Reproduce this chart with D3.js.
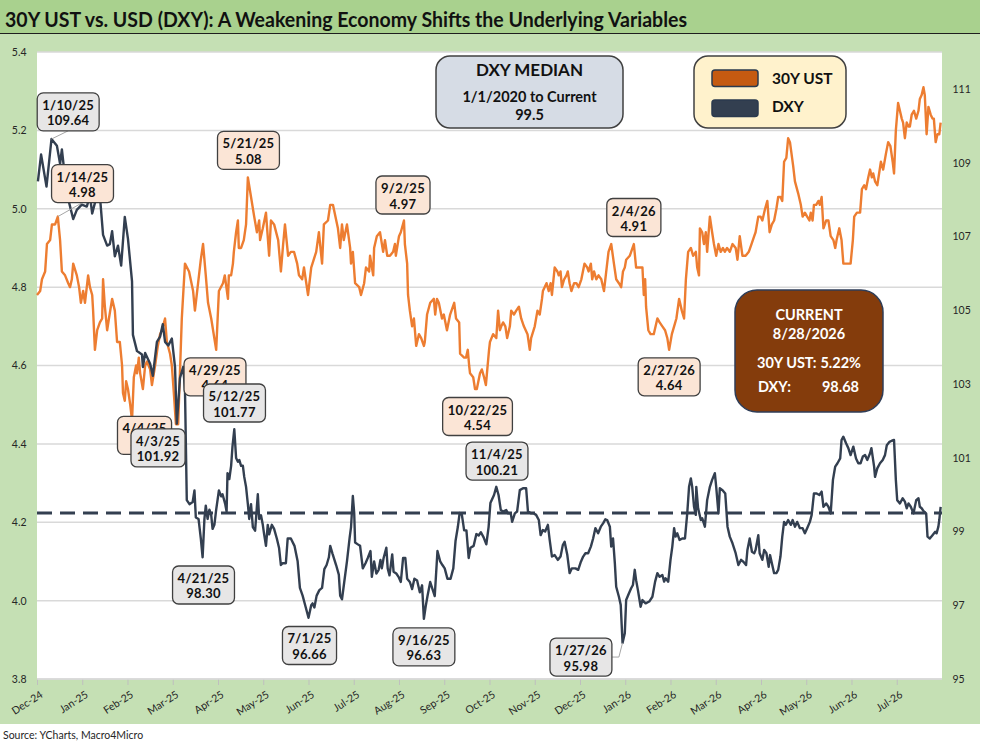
<!DOCTYPE html>
<html><head><meta charset="utf-8">
<script src="https://cdn.jsdelivr.net/npm/d3@7/dist/d3.min.js"></script>
<style>
html,body{margin:0;padding:0;background:#fff;}
svg{display:block;font-family:Lato,"Open Sans",sans-serif;}
</style></head><body>
<svg id="c" width="982" height="744"></svg>
<script>
// ---------------- DATA ----------------
const titleText = "30Y UST vs. USD (DXY): A Weakening Economy Shifts the Underlying Variables";
const sourceText = "Source: YCharts, Macro4Micro";
const monthLabels = ["Dec-24","Jan-25","Feb-25","Mar-25","Apr-25","May-25","Jun-25","Jul-25","Aug-25","Sep-25","Oct-25","Nov-25","Dec-25","Jan-26","Feb-26","Mar-26","Apr-26","May-26","Jun-26","Jul-26"];
const ustTicks = [3.8,4.0,4.2,4.4,4.6,4.8,5.0,5.2,5.4];
const dxyTicks = [95,97,99,101,103,105,107,109,111];
const seriesNames = ["30Y UST","DXY"];
const dxyMedian = 99.5;
const medianLines = ["DXY MEDIAN","1/1/2020 to Current","99.5"];
const current = {date:"8/28/2026", ust:"5.22%", dxy:"98.68"};

// time in months from the Dec-24 axis tick, value
const ust = [[0,4.78],[0.07,4.79],[0.11,4.82],[0.18,4.84],[0.22,4.91],[0.29,4.92],[0.33,4.96],[0.40,4.96],[0.46,4.98],[0.51,4.92],[0.55,4.84],[0.62,4.83],[0.69,4.81],[0.73,4.80],[0.77,4.82],[0.80,4.86],[0.88,4.83],[0.93,4.80],[0.97,4.76],[1.02,4.79],[1.06,4.76],[1.13,4.83],[1.17,4.80],[1.22,4.78],[1.24,4.74],[1.28,4.64],[1.33,4.69],[1.39,4.71],[1.44,4.72],[1.46,4.82],[1.50,4.75],[1.55,4.69],[1.59,4.72],[1.66,4.77],[1.72,4.74],[1.77,4.66],[1.83,4.66],[1.88,4.60],[1.90,4.53],[1.94,4.51],[1.97,4.56],[2.01,4.54],[2.06,4.50],[2.10,4.46],[2.14,4.57],[2.19,4.60],[2.21,4.58],[2.25,4.62],[2.28,4.58],[2.34,4.54],[2.39,4.60],[2.43,4.61],[2.50,4.59],[2.54,4.55],[2.61,4.60],[2.67,4.65],[2.72,4.68],[2.76,4.69],[2.83,4.72],[2.87,4.66],[2.94,4.63],[2.98,4.60],[3.03,4.52],[3.07,4.45],[3.12,4.45],[3.20,4.72],[3.27,4.86],[3.36,4.84],[3.45,4.79],[3.49,4.74],[3.56,4.81],[3.62,4.87],[3.67,4.91],[3.73,4.83],[3.78,4.76],[3.85,4.72],[3.96,4.64],[4.02,4.79],[4.11,4.81],[4.15,4.83],[4.22,4.77],[4.24,4.83],[4.29,4.83],[4.33,4.86],[4.35,4.89],[4.40,4.94],[4.44,4.97],[4.46,4.90],[4.51,4.90],[4.57,4.92],[4.62,4.96],[4.66,5.08],[4.73,5.03],[4.80,4.98],[4.86,4.94],[4.91,4.97],[4.93,4.92],[4.99,4.95],[5.06,4.99],[5.13,4.88],[5.17,4.97],[5.24,4.96],[5.33,4.92],[5.39,4.84],[5.44,4.91],[5.48,4.96],[5.55,4.88],[5.61,4.89],[5.68,4.89],[5.75,4.86],[5.79,4.83],[5.86,4.82],[5.90,4.85],[5.99,4.78],[6.06,4.85],[6.17,4.89],[6.23,4.94],[6.30,4.86],[6.34,4.96],[6.43,4.97],[6.48,5.01],[6.54,5.01],[6.65,4.95],[6.70,4.90],[6.74,4.96],[6.78,4.92],[6.85,4.96],[6.92,4.90],[6.94,4.86],[6.98,4.89],[7.03,4.81],[7.12,4.80],[7.16,4.78],[7.23,4.81],[7.27,4.85],[7.34,4.84],[7.36,4.88],[7.43,4.83],[7.45,4.90],[7.51,4.93],[7.58,4.94],[7.65,4.89],[7.69,4.92],[7.74,4.88],[7.80,4.88],[7.87,4.89],[7.91,4.91],[7.93,4.88],[8.00,4.93],[8.04,4.94],[8.11,4.97],[8.13,4.91],[8.18,4.86],[8.20,4.78],[8.24,4.74],[8.29,4.70],[8.33,4.72],[8.38,4.65],[8.44,4.68],[8.49,4.67],[8.55,4.65],[8.57,4.66],[8.62,4.73],[8.69,4.76],[8.77,4.77],[8.80,4.73],[8.84,4.77],[8.88,4.76],[8.95,4.72],[8.99,4.73],[9.06,4.69],[9.13,4.73],[9.22,4.76],[9.26,4.72],[9.33,4.71],[9.35,4.63],[9.44,4.62],[9.48,4.62],[9.52,4.64],[9.55,4.60],[9.57,4.58],[9.64,4.57],[9.68,4.54],[9.72,4.54],[9.79,4.58],[9.83,4.59],[9.88,4.57],[9.92,4.55],[9.99,4.64],[10.01,4.66],[10.08,4.68],[10.15,4.67],[10.19,4.74],[10.23,4.69],[10.26,4.70],[10.30,4.71],[10.35,4.70],[10.39,4.67],[10.45,4.70],[10.48,4.74],[10.54,4.73],[10.59,4.74],[10.65,4.75],[10.70,4.72],[10.76,4.70],[10.84,4.68],[10.89,4.64],[10.92,4.67],[11.00,4.70],[11.06,4.74],[11.11,4.73],[11.16,4.77],[11.18,4.79],[11.26,4.81],[11.31,4.79],[11.35,4.81],[11.38,4.78],[11.44,4.85],[11.50,4.84],[11.53,4.83],[11.57,4.84],[11.60,4.80],[11.65,4.82],[11.70,4.83],[11.73,4.84],[11.77,4.81],[11.81,4.79],[11.87,4.81],[11.92,4.81],[11.97,4.80],[12.03,4.82],[12.10,4.86],[12.16,4.85],[12.19,4.84],[12.24,4.86],[12.27,4.82],[12.31,4.84],[12.36,4.82],[12.41,4.83],[12.47,4.82],[12.53,4.79],[12.58,4.84],[12.63,4.89],[12.69,4.91],[12.75,4.86],[12.80,4.82],[12.86,4.81],[12.91,4.80],[12.95,4.84],[12.99,4.85],[13.02,4.87],[13.10,4.88],[13.19,4.91],[13.24,4.85],[13.30,4.85],[13.38,4.85],[13.41,4.78],[13.44,4.82],[13.46,4.75],[13.51,4.69],[13.56,4.68],[13.63,4.68],[13.71,4.72],[13.76,4.71],[13.82,4.70],[13.88,4.69],[13.93,4.67],[13.97,4.64],[14.03,4.68],[14.08,4.70],[14.13,4.72],[14.19,4.77],[14.25,4.74],[14.30,4.72],[14.34,4.82],[14.39,4.89],[14.45,4.90],[14.50,4.88],[14.56,4.89],[14.59,4.85],[14.63,4.83],[14.65,4.95],[14.70,4.94],[14.74,4.91],[14.78,4.94],[14.81,4.89],[14.87,4.98],[14.92,4.94],[14.96,4.91],[15.01,4.88],[15.06,4.91],[15.11,4.89],[15.16,4.90],[15.20,4.89],[15.25,4.90],[15.31,4.89],[15.37,4.91],[15.44,4.90],[15.48,4.87],[15.53,4.93],[15.59,4.88],[15.66,4.88],[15.73,4.89],[15.79,4.91],[15.85,4.93],[15.88,4.94],[15.94,4.98],[15.99,4.98],[16.03,4.97],[16.09,5.00],[16.14,5.02],[16.19,4.94],[16.24,4.96],[16.29,4.97],[16.34,5.00],[16.38,5.03],[16.43,5.03],[16.47,5.02],[16.51,5.12],[16.56,5.13],[16.60,5.18],[16.64,5.17],[16.71,5.11],[16.75,5.07],[16.82,5.04],[16.88,5.01],[16.92,4.98],[16.97,4.99],[17.02,4.98],[17.07,4.97],[17.10,4.99],[17.14,4.97],[17.17,5.01],[17.22,5.01],[17.27,5.02],[17.30,5.01],[17.34,5.03],[17.38,4.95],[17.44,4.97],[17.49,4.97],[17.54,4.93],[17.60,4.92],[17.64,4.90],[17.67,4.92],[17.73,4.95],[17.78,4.92],[17.82,4.86],[17.88,4.86],[17.93,4.86],[17.98,4.86],[18.03,4.92],[18.06,4.98],[18.12,4.99],[18.19,4.99],[18.23,5.05],[18.28,5.06],[18.32,5.05],[18.37,5.08],[18.41,5.10],[18.45,5.08],[18.48,5.09],[18.52,5.07],[18.57,5.06],[18.61,5.09],[18.65,5.12],[18.70,5.10],[18.76,5.14],[18.81,5.17],[18.86,5.16],[18.91,5.12],[18.94,5.09],[18.98,5.20],[19.03,5.27],[19.07,5.25],[19.11,5.23],[19.14,5.22],[19.18,5.18],[19.22,5.22],[19.26,5.21],[19.29,5.21],[19.33,5.24],[19.38,5.25],[19.43,5.23],[19.48,5.25],[19.51,5.28],[19.55,5.29],[19.59,5.31],[19.62,5.29],[19.66,5.19],[19.70,5.26],[19.75,5.24],[19.79,5.23],[19.82,5.23],[19.86,5.17],[19.90,5.19],[19.94,5.19],[19.97,5.22]];

const dxy = [[0.02,108.49],[0.09,109.22],[0.21,108.35],[0.32,109.64],[0.44,109.46],[0.51,108.97],[0.55,109.36],[0.62,108.59],[0.69,108.01],[0.80,107.47],[0.88,107.72],[0.99,107.86],[1.10,107.81],[1.17,108.10],[1.22,107.62],[1.28,107.91],[1.39,108.10],[1.46,107.04],[1.55,106.75],[1.61,106.79],[1.66,107.14],[1.72,106.46],[1.79,106.75],[1.86,106.21],[1.94,107.53],[2.01,106.94],[2.10,105.78],[2.12,104.33],[2.21,103.89],[2.32,103.80],[2.34,103.46],[2.39,103.84],[2.50,103.55],[2.56,103.22],[2.65,104.14],[2.72,104.28],[2.78,104.62],[2.83,104.14],[2.90,104.04],[2.98,104.23],[3.05,103.46],[3.09,101.92],[3.16,103.16],[3.23,103.46],[3.27,102.87],[3.31,99.85],[3.37,99.74],[3.44,99.80],[3.48,100.11],[3.51,99.38],[3.57,99.34],[3.62,98.81],[3.66,98.30],[3.70,99.34],[3.73,99.70],[3.77,99.34],[3.81,99.59],[3.85,99.44],[3.88,99.07],[3.92,99.18],[3.96,99.59],[4.02,100.11],[4.07,99.95],[4.10,100.01],[4.16,99.74],[4.19,99.54],[4.21,100.58],[4.25,100.42],[4.29,100.78],[4.32,101.30],[4.36,101.77],[4.40,100.99],[4.44,100.89],[4.47,100.94],[4.51,100.78],[4.55,100.78],[4.58,100.48],[4.62,100.21],[4.66,99.74],[4.69,99.34],[4.73,99.74],[4.77,99.12],[4.82,99.02],[4.88,100.01],[4.91,99.34],[4.95,99.44],[4.99,99.18],[5.02,98.92],[5.06,98.61],[5.10,99.18],[5.13,98.92],[5.19,99.18],[5.24,99.07],[5.30,98.81],[5.35,98.55],[5.39,98.09],[5.43,98.14],[5.50,98.14],[5.54,98.81],[5.61,98.81],[5.69,98.61],[5.76,98.19],[5.81,97.47],[5.87,97.26],[5.94,96.94],[6.00,96.66],[6.06,97.00],[6.09,97.05],[6.13,96.94],[6.18,97.26],[6.24,97.41],[6.30,97.47],[6.35,97.98],[6.40,98.09],[6.45,98.30],[6.48,98.61],[6.53,98.40],[6.61,98.09],[6.67,97.83],[6.70,97.26],[6.74,97.16],[6.79,97.63],[6.85,98.19],[6.91,98.84],[6.94,99.12],[6.98,99.96],[7.01,99.50],[7.03,98.70],[7.09,98.65],[7.14,98.61],[7.20,98.00],[7.26,98.14],[7.31,98.28],[7.37,98.47],[7.40,97.77],[7.45,98.19],[7.50,97.86],[7.55,97.96],[7.59,98.23],[7.62,98.00],[7.66,98.28],[7.72,98.56],[7.75,98.00],[7.79,97.81],[7.85,98.38],[7.88,97.91],[7.94,97.86],[7.99,97.77],[8.04,97.63],[8.09,98.28],[8.14,98.28],[8.18,97.72],[8.24,97.63],[8.29,97.44],[8.34,97.72],[8.40,97.67],[8.46,97.35],[8.51,97.54],[8.55,96.63],[8.59,96.97],[8.63,97.25],[8.69,97.63],[8.74,97.44],[8.79,97.25],[8.85,98.47],[8.91,98.19],[8.96,98.09],[9.01,98.00],[9.07,97.72],[9.14,97.72],[9.20,98.00],[9.25,98.75],[9.30,99.12],[9.34,99.50],[9.39,99.45],[9.44,99.03],[9.49,99.03],[9.54,98.28],[9.58,98.56],[9.65,98.61],[9.71,98.93],[9.76,98.89],[9.81,98.98],[9.87,98.84],[9.93,98.65],[9.98,99.12],[10.02,99.77],[10.10,99.99],[10.15,100.21],[10.20,99.99],[10.25,99.58],[10.30,99.54],[10.37,99.58],[10.41,99.49],[10.47,99.49],[10.50,99.26],[10.56,99.49],[10.61,99.54],[10.67,100.12],[10.74,100.17],[10.81,100.17],[10.85,99.54],[10.92,99.49],[10.98,99.49],[11.03,99.45],[11.09,99.31],[11.13,98.90],[11.18,99.04],[11.23,99.00],[11.29,99.18],[11.33,98.77],[11.38,98.32],[11.44,98.36],[11.51,98.23],[11.57,98.32],[11.62,98.63],[11.66,98.72],[11.72,98.36],[11.77,97.87],[11.82,98.00],[11.90,98.00],[11.96,97.96],[12.02,98.18],[12.07,98.32],[12.12,98.41],[12.18,98.41],[12.24,98.59],[12.29,98.81],[12.34,99.09],[12.40,98.95],[12.46,99.13],[12.51,99.22],[12.56,99.33],[12.60,99.31],[12.66,99.13],[12.69,98.59],[12.73,98.81],[12.77,98.14],[12.80,97.50],[12.86,97.23],[12.90,97.01],[12.94,95.98],[12.99,96.24],[13.02,97.14],[13.08,97.32],[13.13,97.46],[13.17,97.55],[13.21,97.96],[13.24,97.68],[13.28,97.41],[13.34,96.96],[13.38,97.14],[13.45,97.05],[13.53,97.10],[13.60,97.23],[13.66,97.64],[13.71,97.87],[13.76,97.77],[13.82,97.82],[13.86,97.64],[13.89,97.73],[13.95,97.64],[14.00,98.23],[14.04,98.59],[14.08,99.09],[14.11,98.86],[14.15,98.95],[14.20,98.77],[14.26,98.81],[14.32,98.81],[14.37,99.49],[14.41,100.21],[14.45,100.44],[14.48,100.21],[14.52,99.67],[14.56,99.45],[14.57,100.21],[14.61,99.63],[14.67,99.31],[14.70,99.36],[14.76,99.13],[14.81,99.85],[14.87,100.21],[14.92,100.40],[14.98,100.58],[15.01,100.21],[15.06,99.49],[15.09,100.17],[15.15,100.12],[15.21,100.03],[15.26,99.13],[15.31,98.86],[15.37,98.68],[15.44,98.41],[15.50,98.09],[15.56,98.23],[15.61,98.18],[15.67,98.09],[15.70,98.50],[15.75,98.81],[15.80,98.45],[15.85,98.41],[15.88,98.50],[15.94,98.90],[15.97,98.41],[16.03,98.23],[16.07,98.50],[16.12,98.41],[16.17,98.04],[16.20,98.36],[16.24,98.14],[16.29,97.87],[16.34,97.87],[16.38,97.96],[16.43,98.32],[16.47,98.86],[16.51,99.26],[16.55,99.18],[16.60,99.31],[16.66,99.18],[16.70,99.31],[16.75,99.13],[16.80,99.26],[16.86,99.09],[16.92,99.09],[16.97,98.95],[17.02,99.09],[17.08,99.26],[17.12,99.45],[17.17,100.03],[17.23,100.03],[17.29,99.99],[17.34,100.08],[17.38,99.67],[17.44,99.76],[17.49,99.67],[17.54,99.49],[17.59,100.40],[17.64,100.76],[17.69,100.85],[17.75,100.98],[17.78,101.48],[17.82,101.57],[17.88,101.39],[17.93,101.26],[17.98,101.07],[18.04,101.30],[18.10,100.98],[18.15,100.85],[18.20,100.85],[18.25,101.03],[18.30,101.07],[18.35,100.94],[18.41,101.12],[18.44,101.26],[18.50,100.76],[18.52,100.48],[18.57,100.71],[18.63,100.85],[18.69,100.94],[18.74,101.07],[18.78,101.34],[18.84,101.43],[18.89,101.46],[18.94,101.48],[18.98,100.40],[19.01,99.85],[19.07,99.76],[19.13,99.90],[19.18,99.81],[19.22,99.63],[19.26,99.76],[19.31,99.67],[19.37,99.49],[19.43,99.85],[19.48,99.90],[19.51,99.67],[19.55,99.63],[19.60,99.54],[19.65,99.49],[19.68,98.86],[19.73,98.81],[19.79,98.90],[19.85,98.99],[19.88,98.95],[19.92,99.13],[19.94,99.31],[19.97,99.67]];

// callouts: label date, anchor (t, value) on a series
const ustCallouts = [
  {date:"1/14/25", t:0.46, v:4.98},
  {date:"5/21/25", t:4.66, v:5.08},
  {date:"9/2/25",  t:8.11, v:4.97},
  {date:"2/4/26",  t:13.19, v:4.91},
  {date:"4/4/25",  t:2.10, v:4.46},
  {date:"4/29/25", t:3.96, v:4.64},
  {date:"10/22/25",t:9.72, v:4.54},
  {date:"2/27/26", t:13.97, v:4.64}
];
const dxyCallouts = [
  {date:"1/10/25", t:0.32, v:109.64},
  {date:"4/3/25",  t:3.09, v:101.92},
  {date:"5/12/25", t:4.36, v:101.77},
  {date:"11/4/25", t:10.15, v:100.21},
  {date:"4/21/25", t:3.66, v:98.30},
  {date:"7/1/25",  t:6.00, v:96.66},
  {date:"9/16/25", t:8.55, v:96.63},
  {date:"1/27/26", t:12.94, v:95.98}
];
// placement of each callout box relative to its anchor (layout, px)
const ustPlace = [[24.7,-33,"up"],[0.6,-27,null],[-1,-25.5,null],[0,-26.5,null],[12.5,15,null],[-1.2,27,null],[0.7,27.5,null],[0,27,null]];
const dxyPlace = [[16.7,-27.2,"up"],[-18.8,24.2,null],[0.2,-26.3,null],[0.7,-25.8,null],[0.9,27.7,null],[1,27.7,null],[0,28,null],[-41.6,14.2,"elbow"]];

// ---------------- CHART ----------------
const svg = d3.select("#c");
const P = {l:37, r:942, t:52, b:679};
const x = d3.scaleLinear().domain([0,20]).range([P.l,P.r]);
const yL = d3.scaleLinear().domain([3.8,5.4]).range([P.b,P.t]);
const yR = d3.scaleLinear().domain([95,112]).range([P.b,P.t]);

// frame backgrounds
svg.append("rect").attr("x",0).attr("y",0).attr("width",980).attr("height",33).attr("fill","#a9d18e");
svg.append("rect").attr("x",0).attr("y",34).attr("width",980).attr("height",690).attr("fill","#c5e0b4");
svg.append("line").attr("x1",0).attr("x2",980).attr("y1",33.5).attr("y2",33.5).attr("stroke","#1e1e1e").attr("stroke-width",1.2);
svg.append("text").attr("x",5).attr("y",27).attr("font-size",21).attr("font-weight","bold").attr("fill","#111")
  .attr("textLength",682).attr("lengthAdjust","spacingAndGlyphs").text(titleText);
svg.append("rect").attr("x",P.l).attr("y",P.t).attr("width",P.r-P.l).attr("height",P.b-P.t).attr("fill","#fff");

// gridlines
svg.append("g").selectAll("line").data(ustTicks).join("line")
  .attr("x1",P.l).attr("x2",P.r).attr("y1",d=>yL(d)).attr("y2",d=>yL(d))
  .attr("stroke","#d9d9d9").attr("stroke-width",1.5);

// axes
const fmt1 = d3.format(".1f");
const gl = svg.append("g").attr("transform",`translate(${P.l},0)`)
  .call(d3.axisLeft(yL).tickValues(ustTicks).tickFormat(fmt1).tickSize(0).tickPadding(10));
const gr = svg.append("g").attr("transform",`translate(${P.r},0)`)
  .call(d3.axisRight(yR).tickValues(dxyTicks).tickSize(0).tickPadding(10));
const gb = svg.append("g").attr("transform",`translate(0,${P.b})`)
  .call(d3.axisBottom(x).tickValues(d3.range(monthLabels.length)).tickFormat(i=>monthLabels[i]).tickSize(6).tickPadding(0));
[gl,gr,gb].forEach(g=>{g.select(".domain").remove();g.selectAll("text").attr("font-family","Lato").attr("font-size",10.5).attr("fill","#262626");});
gl.selectAll("text").attr("dx",-0.5);
gr.selectAll("text").attr("dx",0.5);
gb.selectAll(".tick line").attr("stroke","#bfbfbf").attr("stroke-width",1);
gb.selectAll("text").attr("text-anchor","end").attr("y",0).attr("dy","0.72em")
  .attr("transform","translate(2,11) rotate(-33)");
svg.append("line").attr("x1",P.l).attr("x2",P.r).attr("y1",P.b).attr("y2",P.b).attr("stroke","#d9d9d9").attr("stroke-width",1.5);

// series
const ustLine = d3.line().x(d=>x(d[0])).y(d=>yL(d[1]));
const dxyLine = d3.line().x(d=>x(d[0])).y(d=>yR(d[1]));
svg.append("path").datum(ust).attr("d",ustLine).attr("fill","none").attr("stroke","#ed7d31").attr("stroke-width",2.4).attr("stroke-linejoin","round");
svg.append("path").datum(dxy).attr("d",dxyLine).attr("fill","none").attr("stroke","#333f50").attr("stroke-width",2.4).attr("stroke-linejoin","round");
svg.append("line").attr("x1",P.l).attr("x2",P.r).attr("y1",yR(dxyMedian)).attr("y2",yR(dxyMedian))
  .attr("stroke","#333f50").attr("stroke-width",3).attr("stroke-dasharray","15,8");

// callouts
function drawCallouts(list, place, yScale, fill){
  list.forEach((c,i)=>{
    const ax = x(c.t), ay = yScale(c.v);
    const cx = ax + place[i][0], cy = ay + place[i][1];
    const g = svg.append("g");
    const t1 = g.append("text").attr("x",cx).attr("y",cy-2).attr("text-anchor","middle").attr("font-size",13).attr("font-weight","bold").attr("letter-spacing",0.3).attr("fill","#111").text(c.date);
    const t2 = g.append("text").attr("x",cx).attr("y",cy+13.5).attr("text-anchor","middle").attr("font-size",13).attr("font-weight","bold").attr("letter-spacing",0.3).attr("fill","#111").text(c.v.toFixed(2));
    const w = Math.max(t1.node().getComputedTextLength(), t2.node().getComputedTextLength()) + 10;
    const h = 38;
    const kind = place[i][2];
    if (kind==="up") {
      svg.insert("line", () => g.node()).attr("x1",ax).attr("y1",ay).attr("x2",cx).attr("y2",cy+h/2).attr("stroke","#a6a6a6").attr("stroke-width",1);
    } else if (kind==="elbow") {
      svg.insert("polyline", () => g.node()).attr("points",`${ax},${ay} ${cx+w/2+7},${cy} ${cx+w/2},${cy}`).attr("fill","none").attr("stroke","#a6a6a6").attr("stroke-width",1);
    }
    g.insert("rect","text").attr("x",cx-w/2).attr("y",cy-h/2).attr("width",w).attr("height",h).attr("rx",6)
      .attr("fill",fill).attr("stroke","#404040").attr("stroke-width",1.3);
  });
}
drawCallouts(ustCallouts, ustPlace, yL, "#fbe5d6");
drawCallouts(dxyCallouts, dxyPlace, yR, "#e7e6e6");

// DXY median box
svg.append("rect").attr("x",436).attr("y",56).attr("width",187).attr("height",72).attr("rx",14)
  .attr("fill","#d6dce5").attr("stroke","#404040").attr("stroke-width",1.5);
const mSizes=[17,14.5,14.5], mY=[76,102,120];
medianLines.forEach((s,i)=>svg.append("text").attr("x",529.5).attr("y",mY[i]).attr("text-anchor","middle")
  .attr("font-size",mSizes[i]).attr("font-weight","bold").attr("fill","#111").text(s));

// legend
svg.append("rect").attr("x",694).attr("y",56).attr("width",152).attr("height",72).attr("rx",14)
  .attr("fill","#fff2cc").attr("stroke","#404040").attr("stroke-width",1.5);
const legColors=["#c55a11","#333f50"];
seriesNames.forEach((n,i)=>{
  svg.append("rect").attr("x",712).attr("y",70+i*30).attr("width",46).attr("height",16.5).attr("rx",3)
    .attr("fill",legColors[i]).attr("stroke","#2b3a4e").attr("stroke-width",1.5);
  svg.append("text").attr("x",772).attr("y",84+i*27.5).attr("font-size",15.5).attr("font-weight","bold").attr("fill","#111").text(n);
});

// current box
svg.append("rect").attr("x",735).attr("y",290).attr("width",148).attr("height",122).attr("rx",22)
  .attr("fill","#843c0c").attr("stroke","#2f3d57").attr("stroke-width",1.5);
const wt = (xx,yy,s,anchor,size)=>svg.append("text").attr("x",xx).attr("y",yy).attr("text-anchor",anchor).attr("font-size",size).attr("font-weight","bold").attr("fill","#fff").text(s);
wt(809,320,"CURRENT","middle",14.5);
wt(809,339,current.date,"middle",14.5);
wt(757,368,"30Y UST:","start",14.5);
wt(861,368,current.ust,"end",14.5);
wt(758,392,"DXY:","start",14.5);
wt(859,392,current.dxy,"end",14.5);

// source
svg.append("text").attr("x",3).attr("y",739).attr("font-size",10.5).attr("fill","#262626").text(sourceText);
</script>
</body></html>
